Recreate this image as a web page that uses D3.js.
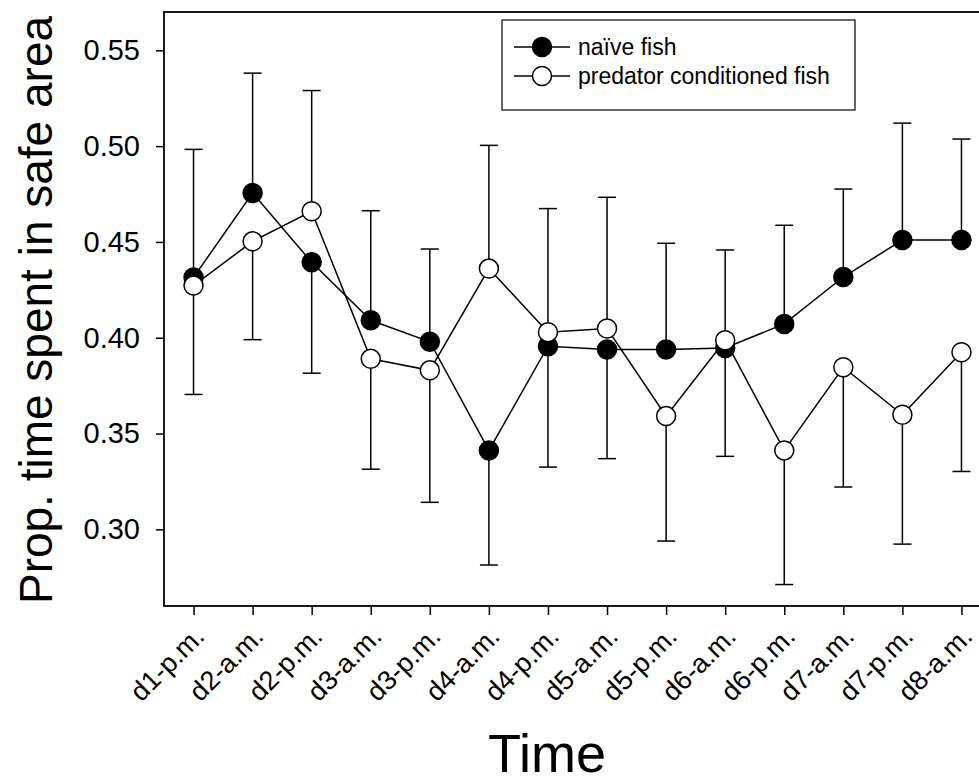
<!DOCTYPE html>
<html>
<head>
<meta charset="utf-8">
<script src="https://cdn.jsdelivr.net/npm/d3@7"></script>
<style>
    body { margin: 0; background: #fff; }
    svg { display: block; font-family: "Liberation Sans", Arial, sans-serif; }
</style>
</head>
<body>
<svg width="979" height="783"></svg>
<script>
// values
var times = ['d1-p.m.', 'd2-a.m.', 'd2-p.m.', 'd3-a.m.', 'd3-p.m.', 'd4-a.m.', 'd4-p.m.',
    'd5-a.m.', 'd5-p.m.', 'd6-a.m.', 'd6-p.m.', 'd7-a.m.', 'd7-p.m.', 'd8-a.m.']
var naive = [0.4315, 0.4755, 0.4394, 0.4091, 0.3979, 0.3412, 0.3956,
    0.3938, 0.3938, 0.3947, 0.4072, 0.4317, 0.451, 0.451]
var naiveErr = [0.0668, 0.0626, 0.0579, 0.0572, 0.0484, 0.0598, 0.0631,
    0.0569, 0.0555, 0.0566, 0.0515, 0.0459, 0.061, 0.0527]
var conditioned = [0.4272, 0.4503, 0.466, 0.389, 0.383, 0.4361, 0.4029,
    0.4048, 0.3591, 0.3987, 0.3412, 0.3846, 0.3598, 0.3924]
var conditionedErr = [0.0568, 0.0513, 0.063, 0.0576, 0.0689, 0.0643, 0.0645,
    0.0685, 0.0652, 0.0471, 0.07, 0.0625, 0.0675, 0.0622]
var yTicks = [0.30, 0.35, 0.40, 0.45, 0.50, 0.55]

var svg = d3.select('svg')
var plotLeft = 164, plotRight = 991, plotTop = 12, plotBottom = 606

var xScale = d3.scalePoint()
    .domain(times)
    .range([plotLeft, plotRight])
    .padding(0.5)
var yScale = d3.scaleLinear()
    .domain([0.26, 0.57])
    .range([plotBottom, plotTop])

// y axis
svg.append('g')
    .attr('transform', 'translate(' + plotLeft + ',0)')
    .call(d3.axisLeft(yScale).tickValues(yTicks).tickFormat(d3.format('.2f')).tickSize(8).tickSizeOuter(0))
    .call(g => g.select('.domain').remove())
    .call(g => g.selectAll('line').attr('stroke', '#000').attr('stroke-width', 1.5))
    .call(g => g.selectAll('text').attr('fill', '#000').style('font-size', '29px').attr('x', -24))

// x axis
svg.append('g')
    .attr('transform', 'translate(0,' + plotBottom + ')')
    .call(d3.axisBottom(xScale).tickSize(9).tickSizeOuter(0))
    .call(g => g.select('.domain').remove())
    .call(g => g.selectAll('line').attr('stroke', '#000').attr('stroke-width', 1.5))
    .call(g => g.selectAll('text')
        .attr('fill', '#000')
        .style('font-size', '27px')
        .attr('text-anchor', 'end')
        .attr('dy', 0)
        .attr('y', 0)
        .attr('transform', 'translate(12,32) rotate(-45)'))

// frame
svg.append('rect')
    .attr('x', plotLeft).attr('y', plotTop)
    .attr('width', plotRight - plotLeft).attr('height', plotBottom - plotTop)
    .style('fill', 'none').style('stroke', '#000').style('stroke-width', 1.8)

function drawSeries(values, errs, other, fill) {
    var g = svg.append('g')
    // error bars go away from the other series
    values.forEach(function(v, i) {
        var end = v >= other[i] ? v + errs[i] : v - errs[i]
        var x = xScale(times[i])
        g.append('line')
            .attr('x1', x).attr('x2', x)
            .attr('y1', yScale(v)).attr('y2', yScale(end))
            .style('stroke', '#000').style('stroke-width', 1.5)
        g.append('line')
            .attr('x1', x - 9).attr('x2', x + 9)
            .attr('y1', yScale(end)).attr('y2', yScale(end))
            .style('stroke', '#000').style('stroke-width', 1.5)
    })
    var line = d3.line()
        .x(function(d, i) { return xScale(times[i]) })
        .y(function(d) { return yScale(d) })
    g.append('path')
        .datum(values)
        .attr('d', line)
        .style('fill', 'none')
        .style('stroke', '#000')
        .style('stroke-width', 1.5)
    g.selectAll('circle')
        .data(values)
        .enter()
        .append('circle')
        .attr('cx', function(d, i) { return xScale(times[i]) })
        .attr('cy', function(d) { return yScale(d) })
        .attr('r', 9.5)
        .style('fill', fill)
        .style('stroke', '#000')
        .style('stroke-width', 1.5)
}
drawSeries(naive, naiveErr, conditioned, '#000')
drawSeries(conditioned, conditionedErr, naive, '#fff')

// legend
var legend = svg.append('g')
legend.append('rect')
    .attr('x', 502).attr('y', 20).attr('width', 353).attr('height', 90)
    .style('fill', '#fff').style('stroke', '#000').style('stroke-width', 1.2)
var legendItems = [{ label: 'naïve fish', fill: '#000' }, { label: 'predator conditioned fish', fill: '#fff' }]
legendItems.forEach(function(d, i) {
    var y = 47 + i * 29
    legend.append('line')
        .attr('x1', 514).attr('x2', 570).attr('y1', y).attr('y2', y)
        .style('stroke', '#000').style('stroke-width', 1.5)
    legend.append('circle')
        .attr('cx', 542).attr('cy', y).attr('r', 9.5)
        .style('fill', d.fill).style('stroke', '#000').style('stroke-width', 1.5)
    legend.append('text')
        .attr('x', 578).attr('y', y + 8)
        .style('font-size', '23px')
        .text(d.label)
})

// axis titles
svg.append('text')
    .attr('x', 547)
    .attr('y', 772)
    .attr('text-anchor', 'middle')
    .style('font-size', '54px')
    .text('Time')
svg.append('text')
    .attr('text-anchor', 'middle')
    .attr('transform', 'translate(52,310) rotate(-90)')
    .style('font-size', '46px')
    .text('Prop. time spent in safe area')
</script>
</body>
</html>
